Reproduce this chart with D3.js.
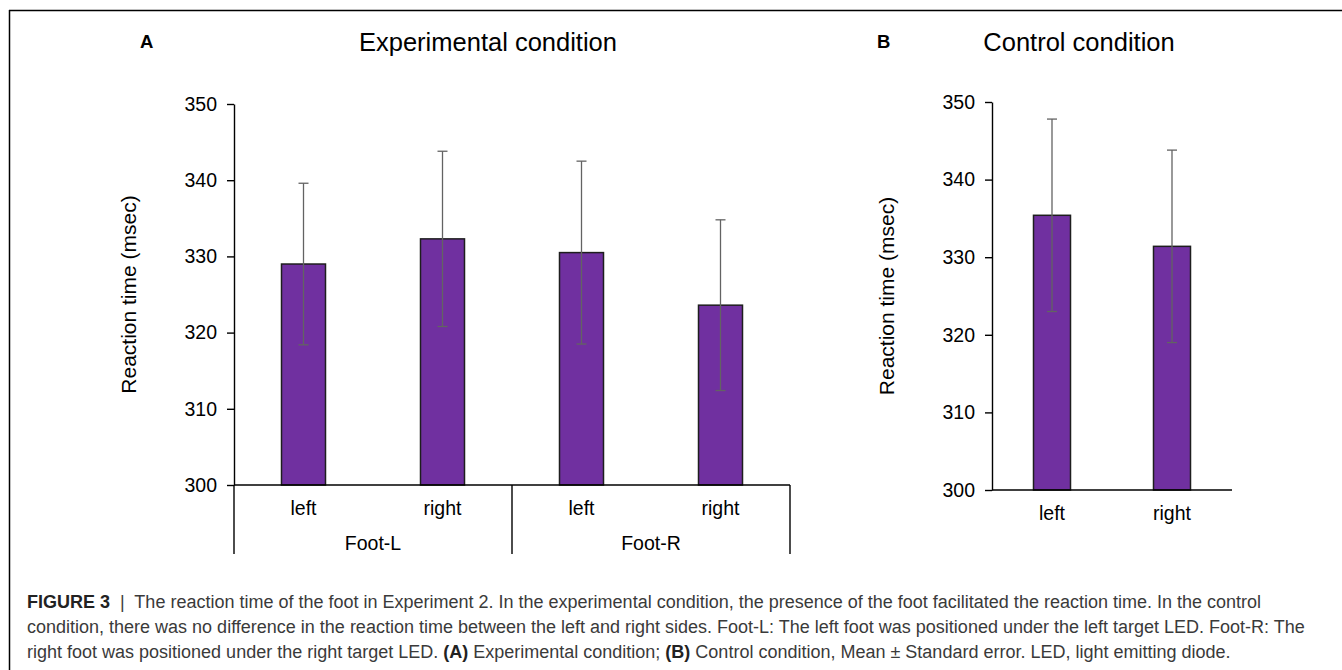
<!DOCTYPE html>
<html lang="en">
<head>
<meta charset="utf-8">
<title>Figure 3</title>
<script src="https://cdn.jsdelivr.net/npm/d3@7"></script>
<style>
  body { margin: 0; background: #fff; font-family: "Liberation Sans", Arial, sans-serif; }
  svg text { font-family: "Liberation Sans", Arial, sans-serif; }
  .axis .tick text { font-size: 19.5px; fill: #000; }
  .axis path, .axis line { stroke: #000; stroke-width: 1.4px; }
  .cat { font-size: 19.5px; fill: #000; }
  .caption { font-size: 18px; fill: #3a3a3a; }
</style>
</head>
<body>
<svg id="fig" width="1342" height="670"></svg>
<script>
// data
var yTicks = [300, 310, 320, 330, 340, 350];

var sidesA = ["left", "right", "left", "right"];
var groupsA = ["Foot-L", "Foot-R"];
var meansA = [329.0, 332.3, 330.5, 323.6];
var errA = [10.6, 11.5, 12.0, 11.2];

var sidesB = ["left", "right"];
var meansB = [335.4, 331.4];
var errB = [12.4, 12.4];

var svg = d3.select("#fig");

// frame lines (top and left)
svg.append("line").attr("x1", 9).attr("x2", 1342).attr("y1", 10.5).attr("y2", 10.5)
  .attr("stroke", "#000").attr("stroke-width", 1.5);
svg.append("line").attr("x1", 9.5).attr("x2", 9.5).attr("y1", 10).attr("y2", 670)
  .attr("stroke", "#000").attr("stroke-width", 1.5);

// draw one panel
function drawPanel(opt) {
  var n = opt.means.length;
  var x = d3.scaleBand().domain(d3.range(n)).range([opt.left, opt.right]);
  var y = d3.scaleLinear().domain([300, 350]).range([opt.bottom, opt.top]);

  var g = svg.append("g");

  // panel letter + title
  g.append("text").attr("x", opt.letterX).attr("y", 48)
    .attr("font-size", 18.5).attr("font-weight", 700).text(opt.letter);
  g.append("text").attr("x", opt.titleX).attr("y", 51)
    .attr("text-anchor", "middle").attr("font-size", 25.5).text(opt.title);

  // bars
  var bw = opt.barW;
  g.selectAll(".bar").data(opt.means).enter().append("rect")
    .attr("class", "bar")
    .attr("x", function(d, i) { return x(i) + x.bandwidth() / 2 - bw / 2; })
    .attr("y", function(d) { return y(d); })
    .attr("width", bw)
    .attr("height", function(d) { return y(300) - y(d); })
    .attr("fill", "#7030A0")
    .attr("stroke", "#1e1e1e")
    .attr("stroke-width", 1.5);

  // error bars
  var eb = g.selectAll(".err").data(opt.means).enter().append("g")
    .attr("class", "err")
    .attr("stroke", "#636363").attr("stroke-width", 1.3);
  eb.append("line")
    .attr("x1", function(d, i) { return x(i) + x.bandwidth() / 2; })
    .attr("x2", function(d, i) { return x(i) + x.bandwidth() / 2; })
    .attr("y1", function(d, i) { return y(d + opt.err[i]); })
    .attr("y2", function(d, i) { return y(d - opt.err[i]); });
  [1, -1].forEach(function(s) {
    eb.append("line")
      .attr("x1", function(d, i) { return x(i) + x.bandwidth() / 2 - 5; })
      .attr("x2", function(d, i) { return x(i) + x.bandwidth() / 2 + 5; })
      .attr("y1", function(d, i) { return y(d + s * opt.err[i]); })
      .attr("y2", function(d, i) { return y(d + s * opt.err[i]); });
  });

  // y axis
  g.append("g").attr("class", "axis")
    .attr("transform", "translate(" + opt.left + ",0)")
    .call(d3.axisLeft(y).tickValues(yTicks).tickSize(7).tickSizeOuter(0).tickPadding(10));

  // x axis line
  g.append("line").attr("x1", opt.left).attr("x2", opt.right)
    .attr("y1", y(300)).attr("y2", y(300))
    .attr("stroke", "#000").attr("stroke-width", 1.4);

  // category labels
  g.selectAll(".cat").data(opt.sides).enter().append("text")
    .attr("class", "cat")
    .attr("x", function(d, i) { return x(i) + x.bandwidth() / 2; })
    .attr("y", y(300) + 30)
    .attr("text-anchor", "middle")
    .text(function(d) { return d; });

  // y axis title
  g.append("text")
    .attr("transform", "translate(" + opt.ylabX + "," + ((y(300) + y(350)) / 2) + ") rotate(-90)")
    .attr("text-anchor", "middle")
    .attr("font-size", 21)
    .text("Reaction time (msec)");

  return { x: x, y: y, g: g };
}

var A = drawPanel({
  letter: "A", letterX: 140, title: "Experimental condition", titleX: 488,
  left: 234, right: 790, top: 104, bottom: 485, barW: 44, ylabX: 136,
  means: meansA, err: errA, sides: sidesA
});

// group labels + separators for panel A
var xg = d3.scaleBand().domain(groupsA).range([234, 790]);
groupsA.forEach(function(gname) {
  A.g.append("text").attr("class", "cat")
    .attr("x", xg(gname) + xg.bandwidth() / 2)
    .attr("y", 485 + 65)
    .attr("text-anchor", "middle")
    .text(gname);
});
A.g.selectAll(".sep").data(d3.range(groupsA.length + 1)).enter().append("line")
  .attr("class", "sep")
  .attr("x1", function(i) { return 234 + i * xg.bandwidth(); })
  .attr("x2", function(i) { return 234 + i * xg.bandwidth(); })
  .attr("y1", 485).attr("y2", 554)
  .attr("stroke", "#000").attr("stroke-width", 1.4);

var B = drawPanel({
  letter: "B", letterX: 877, title: "Control condition", titleX: 1079,
  left: 992, right: 1232, top: 102, bottom: 490, barW: 37, ylabX: 894,
  means: meansB, err: errB, sides: sidesB
});

// caption
var capLines = [
  [["FIGURE 3", true], ["  |  The reaction time of the foot in Experiment 2. In the experimental condition, the presence of the foot facilitated the reaction time. In the control", false]],
  [["condition, there was no difference in the reaction time between the left and right sides. Foot-L: The left foot was positioned under the left target LED. Foot-R: The", false]],
  [["right foot was positioned under the right target LED. ", false], ["(A)", true], [" Experimental condition; ", false], ["(B)", true], [" Control condition, Mean \u00b1 Standard error. LED, light emitting diode.", false]]
];
var cap = svg.append("text").attr("class", "caption").attr("xml:space", "preserve");
capLines.forEach(function(line, li) {
  line.forEach(function(seg, si) {
    var t = cap.append("tspan").text(seg[0])
      .attr("font-weight", seg[1] ? 700 : 400)
      .attr("fill", seg[1] ? "#222" : "#3a3a3a");
    if (si === 0) t.attr("x", 27).attr("y", 608 + li * 25);
  });
});
</script>
</body>
</html>
